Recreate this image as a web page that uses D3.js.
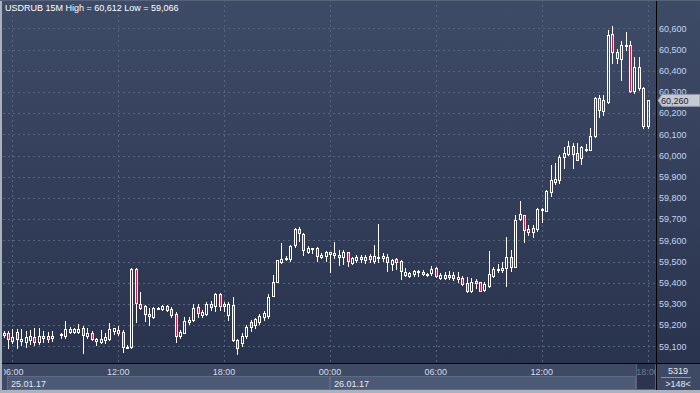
<!doctype html>
<html>
  <head>
    <meta charset="utf-8">
    <title>USDRUB 15M</title>
    <script src="https://d3js.org/d3.v7.min.js"></script>
    <style type="text/css">
      body { margin: 0; background-color: #3e4a63; }
      svg { display: block; }
      text { font-family: "Liberation Sans", Arial, sans-serif; font-size: 9px; }
    </style>
  </head>
  <body>
    <script>
      //Width and height
      var w = 700;
      var h = 393;

      // 15 minute bars, 25.01.17 05:30 .. 26.01.17 18:00 (bar 12 missing)
      var barStart = new Date(2017, 0, 25, 5, 30);
      var barEnd = new Date(2017, 0, 26, 18, 0);

      var open = [59153,59164,59124,59166,59125,59122,59128,59142,59119,59138,59149,59138,null,59152,59150,59169,59168,59169,59188,59149,
        59161,59124,59120,59130,59134,59172,59176,59166,59091,59095,59463,59298,59290,59244,59240,59278,59276,59290,59275,59252,
        59149,59164,59213,59222,59284,59248,59251,59298,59290,59347,59292,59248,59295,59130,59116,59149,59215,59200,59215,59238,
        59243,59339,59405,59499,59512,59512,59578,59652,59630,59546,59560,59562,59520,59526,59543,59532,59531,59520,59543,59494,
        59507,59523,59507,59526,59504,59518,59515,59520,59487,59510,59502,59436,59433,59441,59455,59452,59440,59444,59471,59421,
        59436,59436,59436,59417,59421,59397,59362,59409,59402,59366,59384,59432,59460,59460,59468,59520,59475,59699,59718,59653,
        59641,59653,59746,59740,59830,59876,59885,59991,60008,60047,60010,59987,60030,60028,60093,60270,60211,60254,60572,60490,
        60454,60520,60521,60306,60416,60317,60139];
      var high = [59172,59174,59180,59182,59180,59174,59177,59185,59185,59172,59166,59172,null,59164,59219,59190,59188,59207,59197,59185,
        59174,59141,59175,59161,59208,59188,59197,59177,59104,59468,59468,59356,59295,59279,59287,59284,59295,59295,59284,59260,
        59177,59237,59237,59298,59298,59271,59310,59315,59353,59353,59310,59310,59331,59134,59163,59200,59224,59234,59252,59267,
        59347,59436,59509,59586,59526,59578,59659,59661,59633,59573,59566,59570,59539,59551,59546,59591,59554,59554,59546,59523,
        59531,59532,59531,59534,59578,59677,59539,59535,59512,59515,59507,59468,59449,59460,59460,59460,59447,59480,59476,59444,
        59452,59455,59452,59449,59433,59425,59421,59417,59405,59405,59549,59473,59488,59496,59617,59554,59719,59787,59720,59671,
        59672,59751,59751,59835,59955,59963,60002,60042,60068,60061,60058,60044,60053,60128,60275,60285,60285,60592,60612,60501,
        60540,60581,60540,60463,60466,60325,60262];
      var low = [59144,59093,59114,59093,59106,59098,59111,59106,59109,59122,59120,59127,null,59138,59141,59161,59161,59161,59070,59141,
        59128,59106,59114,59117,59130,59157,59153,59075,59090,59093,59216,59276,59218,59200,59235,59275,59271,59266,59237,59122,
        59138,59161,59205,59219,59240,59240,59248,59271,59266,59271,59266,59225,59125,59066,59101,59139,59172,59186,59205,59224,
        59234,59337,59403,59491,59505,59504,59567,59598,59531,59539,59539,59504,59515,59504,59452,59515,59483,59488,59480,59487,
        59499,59500,59495,59499,59492,59499,59504,59457,59460,59463,59416,59432,59425,59432,59432,59436,59432,59438,59428,59417,
        59417,59417,59412,59405,59390,59357,59357,59374,59361,59361,59381,59425,59452,59449,59384,59457,59473,59696,59593,59625,
        59617,59645,59685,59738,59809,59866,59869,59943,60002,59943,59977,59958,60021,60026,60089,60183,60191,60246,60438,60438,
        60356,60498,60301,60293,60309,60128,60131];
      var close = [59163,59136,59142,59133,59134,59144,59149,59120,59149,59149,59134,59149,null,59157,59180,59182,59182,59182,59153,59164,
        59133,59134,59136,59145,59180,59185,59161,59095,59098,59463,59303,59282,59251,59254,59279,59281,59290,59271,59248,59150,
        59166,59219,59226,59279,59255,59260,59298,59284,59345,59291,59298,59300,59130,59094,59149,59191,59191,59229,59243,59257,
        59334,59402,59507,59512,59515,59573,59653,59633,59555,59565,59562,59526,59532,59546,59534,59541,59520,59543,59502,59515,
        59523,59512,59523,59510,59526,59522,59526,59499,59507,59496,59455,59450,59444,59457,59457,59440,59437,59465,59432,59436,
        59424,59425,59422,59428,59393,59361,59405,59397,59362,59393,59441,59463,59463,59468,59520,59475,59696,59723,59649,59641,
        59660,59748,59742,59833,59885,59889,59991,60010,60047,60008,59980,60038,60033,60094,60270,60215,60262,60568,60490,60458,
        60521,60523,60306,60416,60317,60141,60260];

      // axis labels
      var yTickValues = [59100,59200,59300,59400,59500,59600,59700,59800,59900,60000,60100,60200,60300,60400,60500,60600];
      var xTickTimes = [new Date(2017,0,25,6), new Date(2017,0,25,12), new Date(2017,0,25,18), new Date(2017,0,26,0),
        new Date(2017,0,26,6), new Date(2017,0,26,12), new Date(2017,0,26,18)];
      var dayStarts = [new Date(2017,0,25,0), new Date(2017,0,26,0)];
      var dayLabels = ["25.01.17", "26.01.17"];
      var symbol = "USDRUB 15M";
      var barCountLabel = "5319";
      var visibleLabel = ">148<";

      var times = d3.timeMinute.every(15).range(barStart, new Date(+barEnd + 1));
      var bars = times.map(function(t, i) {
        return { t: t, o: open[i], h: high[i], l: low[i], c: close[i] };
      }).filter(function(d) { return d.o != null; });

      // layout
      var plotL = 3, plotR = 656, plotB = 363;

      var x = d3.scaleTime().domain([barStart, barEnd]).range([3.5, 647.6]);
      var y = d3.scaleLinear().domain([59100, 60600]).range([346.3, 28.3]);

      //Create SVG
      var svg = d3.select("body")
        .append("svg")
        .attr("width", w)
        .attr("height", h);

      var defs = svg.append("defs");
      var grad = defs.append("linearGradient").attr("id", "bg")
        .attr("x1", 0).attr("y1", 0).attr("x2", 0).attr("y2", 1);
      grad.append("stop").attr("offset", "0%").attr("stop-color", "#3e4b67");
      grad.append("stop").attr("offset", "100%").attr("stop-color", "#29334e");
      defs.append("clipPath").attr("id", "plotClip").append("rect")
        .attr("x", plotL).attr("y", 0).attr("width", plotR - plotL).attr("height", plotB);
      defs.append("clipPath").attr("id", "timeClip").append("rect")
        .attr("x", plotL + 1).attr("y", plotB).attr("width", plotR - plotL - 1).attr("height", 30);

      // backgrounds
      svg.append("rect").attr("width", w).attr("height", h).attr("fill", "#3e4a63");
      svg.append("rect").attr("x", 0).attr("y", 0).attr("width", w).attr("height", plotB)
        .attr("fill", "url(#bg)");

      // grid
      var grid = svg.append("g").attr("clip-path", "url(#plotClip)")
        .attr("stroke", "#56637f").attr("stroke-dasharray", "2,3")
        .attr("shape-rendering", "crispEdges");
      grid.selectAll("line.h").data(yTickValues).enter().append("line")
        .attr("x1", plotL).attr("x2", plotR)
        .attr("y1", function(d) { return Math.round(y(d)) + 0.5; })
        .attr("y2", function(d) { return Math.round(y(d)) + 0.5; });
      grid.selectAll("line.v").data(xTickTimes).enter().append("line")
        .attr("y1", 0).attr("y2", plotB)
        .attr("x1", function(d) { return Math.round(x(d)) + 0.5; })
        .attr("x2", function(d) { return Math.round(x(d)) + 0.5; });

      // candles
      var layerCandles = svg.append("g").attr("clip-path", "url(#plotClip)")
        .attr("shape-rendering", "crispEdges");
      var candle = layerCandles.selectAll("g").data(bars).enter().append("g");
      function cx(d) { return Math.round(x(d.t)); }
      function bTop(d) { return Math.round(y(Math.max(d.o, d.c))); }
      function bBot(d) { var t = bTop(d), b = Math.round(y(Math.min(d.o, d.c))); return Math.max(b, t + 1); }
      candle.append("line")
        .attr("x1", function(d) { return cx(d) + 0.5; }).attr("x2", function(d) { return cx(d) + 0.5; })
        .attr("y1", function(d) { return Math.round(y(d.h)); })
        .attr("y2", function(d) { return bTop(d); })
        .attr("stroke", "#ffffff");
      candle.append("line")
        .attr("x1", function(d) { return cx(d) + 0.5; }).attr("x2", function(d) { return cx(d) + 0.5; })
        .attr("y1", function(d) { return bBot(d); })
        .attr("y2", function(d) { return Math.round(y(d.l)) + 1; })
        .attr("stroke", "#ffffff");
      candle.append("rect")
        .attr("x", function(d) { return cx(d) - 0.5; })
        .attr("y", function(d) { return bTop(d) + 0.5; })
        .attr("width", 2)
        .attr("height", function(d) { return bBot(d) - bTop(d); })
        .attr("fill", function(d) { return d.c < d.o ? "#e3133d" : "none"; })
        .attr("stroke", "#ffffff");

      // title
      var hi = d3.max(high), lo = d3.min(low);
      var fmt = d3.format(",");
      svg.append("text").attr("x", 5).attr("y", 11).attr("fill", "#ffffff")
        .text(symbol + " High = " + fmt(hi) + " Low = " + fmt(lo));

      // right axis labels
      svg.selectAll("text.ylab").data(yTickValues).enter().append("text")
        .attr("x", 659).attr("y", function(d) { return y(d) + 3.3; })
        .attr("fill", "#c2d6f3")
        .text(function(d) { return fmt(d); });

      // last price tag
      var last = bars[bars.length - 1].c;
      var ly = y(last);
      svg.append("path")
        .attr("d", "M658," + ly + "L662," + (ly - 6) + "L700," + (ly - 6) + "L700," + (ly + 6) + "L662," + (ly + 6) + "Z")
        .attr("fill", "#c5c9d1").attr("stroke", "#8f96a3");
      svg.append("text").attr("x", 661).attr("y", ly + 3.3).attr("fill", "#1b2030")
        .text(fmt(last));

      // bottom panel: date boxes
      var dayX = dayStarts.map(function(d) { return Math.max(x(d), 7); });
      var bottom = svg.append("g").attr("shape-rendering", "crispEdges");
      bottom.selectAll("rect.day").data(dayX).enter().append("rect")
        .attr("x", function(d) { return Math.round(d) + 0.5; })
        .attr("y", 376.5)
        .attr("width", function(d, i) { return (i + 1 < dayX.length ? Math.round(dayX[i + 1]) : 636) - Math.round(d) - 1; })
        .attr("height", 13)
        .attr("fill", "#4d5a76").attr("stroke", "#5d6a86");
      svg.selectAll("text.day").data(dayX).enter().append("text")
        .attr("x", function(d) { return Math.round(d) + 4; }).attr("y", 386.5)
        .attr("fill", "#e4eaf4")
        .text(function(d, i) { return dayLabels[i]; });

      // current bar box
      var curX = x(barEnd);
      bottom.append("rect").attr("x", Math.round(curX) - 11.5).attr("y", 363.5)
        .attr("width", plotR - Math.round(curX) + 11).attr("height", 26)
        .attr("fill", "#2b3550").attr("stroke", "#56627c");

      // time labels
      svg.append("g").attr("clip-path", "url(#timeClip)")
        .selectAll("text").data(xTickTimes).enter().append("text")
        .attr("x", function(d) { return x(d); }).attr("y", 375)
        .attr("text-anchor", "middle")
        .attr("fill", function(d) { return +d === +barEnd ? "#6e7a92" : "#d3def1"; })
        .text(d3.timeFormat("%H:%M"));

      // separators
      var sep = svg.append("g").attr("stroke", "#000000").attr("shape-rendering", "crispEdges");
      sep.append("line").attr("x1", 0).attr("x2", w).attr("y1", plotB + 0.5).attr("y2", plotB + 0.5);
      sep.append("line").attr("x1", plotR + 0.5).attr("x2", plotR + 0.5).attr("y1", 0).attr("y2", h);

      // bottom-right counters
      svg.append("text").attr("x", 678).attr("y", 374).attr("text-anchor", "middle")
        .attr("fill", "#e4eaf4").text(barCountLabel);
      svg.append("line").attr("x1", 661).attr("x2", 691).attr("y1", 377.5).attr("y2", 377.5)
        .attr("stroke", "#8a94a8").attr("shape-rendering", "crispEdges");
      svg.append("text").attr("x", 678).attr("y", 387).attr("text-anchor", "middle")
        .attr("fill", "#e4eaf4").text(visibleLabel);

      // outer frame
      var frame = svg.append("g").attr("fill", "#aab2c0").attr("shape-rendering", "crispEdges");
      frame.append("rect").attr("x", 0).attr("y", 0).attr("width", 2).attr("height", h);
      frame.append("rect").attr("x", 0).attr("y", 390).attr("width", w).attr("height", 3);
      frame.append("rect").attr("x", 0).attr("y", 0).attr("width", w).attr("height", 1).attr("fill", "#56627a");
    </script>
  </body>
</html>
